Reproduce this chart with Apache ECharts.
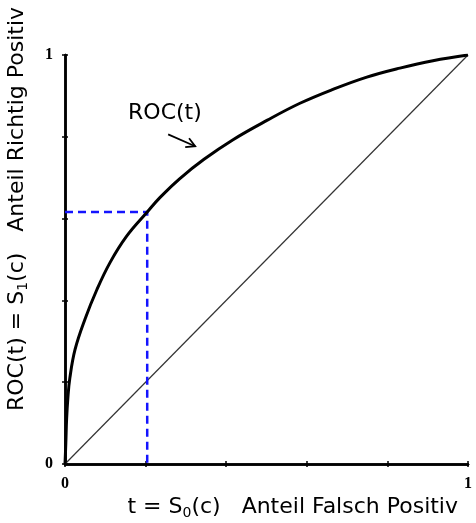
<!DOCTYPE html>
<html>
<head>
<meta charset="utf-8">
<script src="https://cdn.jsdelivr.net/npm/echarts@6/dist/echarts.min.js"></script>
<style>
  html, body { margin: 0; padding: 0; background: #fff; }
  #chart { width: 476px; height: 523px; }
</style>
</head>
<body>
<div id="chart"></div>
<script>
// ROC-Kurve
var rocT = [0, 0.002, 0.004, 0.007, 0.012, 0.025, 0.05, 0.079, 0.112, 0.153, 0.204, 0.236, 0.285, 0.345, 0.417, 0.501, 0.583, 0.665, 0.749, 0.831, 0.913, 1];
var rocY = [0, 0.05, 0.11, 0.16, 0.21, 0.28, 0.355, 0.426, 0.493, 0.557, 0.616, 0.652, 0.698, 0.745, 0.793, 0.840, 0.882, 0.916, 0.946, 0.968, 0.986, 1];
var diagonal = [[0, 0], [1, 1]];
var cutT = 0.204;
var cutY = 0.616;
var tickLabels = ['0', '1'];
var annoLabel = 'ROC(t)';
var annoLabelPos = [0.248, 0.858];
var arrowFrom = [0.256, 0.806];
var arrowTo = [0.323, 0.777];

var chart = echarts.init(document.getElementById('chart'));

var rocData = rocT.map(function(t, i) { return [t, rocY[i]]; });
var dashData = [[0, cutY], [cutT, cutY], [cutT, 0]];

function axisCommon(pos, showLabel) {
    return {
        type: 'value',
        position: pos,
        min: 0,
        max: 1,
        interval: 0.2,
        splitLine: { show: false },
        axisLine: { show: true, lineStyle: { color: '#000', width: 2.5 } },
        axisTick: { show: true, inside: false, length: 3, lineStyle: { color: '#000', width: 1.5 } },
        axisLabel: {
            show: showLabel,
            fontFamily: 'Liberation Serif',
            fontWeight: 'bold',
            fontSize: 16,
            color: '#000',
            margin: 12,
            formatter: function(v) {
                if (v === 0) return tickLabels[0];
                if (v === 1) return tickLabels[1];
                return '';
            }
        }
    };
}

var option = {
    animation: false,
    backgroundColor: '#fff',
    grid: { left: 65, right: 8, top: 55, bottom: 59 },
    xAxis: [axisCommon('bottom', true), axisCommon('top', false)],
    yAxis: [axisCommon('left', true), axisCommon('right', false)],
    series: [
        {
            type: 'line',
            data: diagonal,
            symbol: 'none',
            lineStyle: { color: '#333', width: 1.2 },
            z: 2
        },
        {
            type: 'line',
            data: dashData,
            symbol: 'none',
            lineStyle: { color: '#1414ff', width: 2.5, type: [8, 5] },
            z: 3
        },
        {
            type: 'line',
            data: rocData,
            smooth: 0.4,
            symbol: 'none',
            lineStyle: { color: '#000', width: 3 },
            z: 4
        }
    ]
};

chart.setOption(option);

function drawGraphics() {
    var lp = chart.convertToPixel({ gridIndex: 0 }, annoLabelPos);
    var a0 = chart.convertToPixel({ gridIndex: 0 }, arrowFrom);
    var a1 = chart.convertToPixel({ gridIndex: 0 }, arrowTo);
    var ang = Math.atan2(a1[1] - a0[1], a1[0] - a0[0]);
    var h = 10;
    var b1 = [a1[0] - h * Math.cos(ang - 0.5), a1[1] - h * Math.sin(ang - 0.5)];
    var b2 = [a1[0] - h * Math.cos(ang + 0.5), a1[1] - h * Math.sin(ang + 0.5)];

    var richStyle = {
        n: { fontFamily: 'DejaVu Sans', fontSize: 22, lineHeight: 26, verticalAlign: 'middle', fill: '#000' },
        s: { fontFamily: 'DejaVu Sans', fontSize: 14, lineHeight: 26, verticalAlign: 'bottom', padding: [12, 0, 0, 0], fill: '#000' }
    };

    chart.setOption({
        graphic: [
            {
                type: 'text',
                x: lp[0],
                y: lp[1],
                style: {
                    text: annoLabel,
                    font: '22px "DejaVu Sans"',
                    fill: '#000',
                    textAlign: 'center',
                    textVerticalAlign: 'middle'
                }
            },
            {
                type: 'polyline',
                shape: { points: [a0, a1] },
                style: { stroke: '#000', lineWidth: 1.8, fill: null }
            },
            {
                type: 'polyline',
                shape: { points: [b1, a1, b2] },
                style: { stroke: '#000', lineWidth: 1.8, fill: null }
            },
            {
                type: 'text',
                x: 458,
                y: 507,
                style: {
                    text: '{n|t = S}{s|0}{n|(c)   Anteil Falsch Positiv}',
                    textAlign: 'right',
                    textVerticalAlign: 'middle',
                    fill: '#000',
                    rich: richStyle
                }
            },
            {
                type: 'text',
                x: 17,
                y: 411,
                rotation: Math.PI / 2,
                style: {
                    text: '{n|ROC(t) = S}{s|1}{n|(c)   Anteil Richtig Positiv}',
                    textAlign: 'left',
                    textVerticalAlign: 'middle',
                    fill: '#000',
                    rich: richStyle
                }
            }
        ]
    });
}

drawGraphics();
</script>
</body>
</html>
